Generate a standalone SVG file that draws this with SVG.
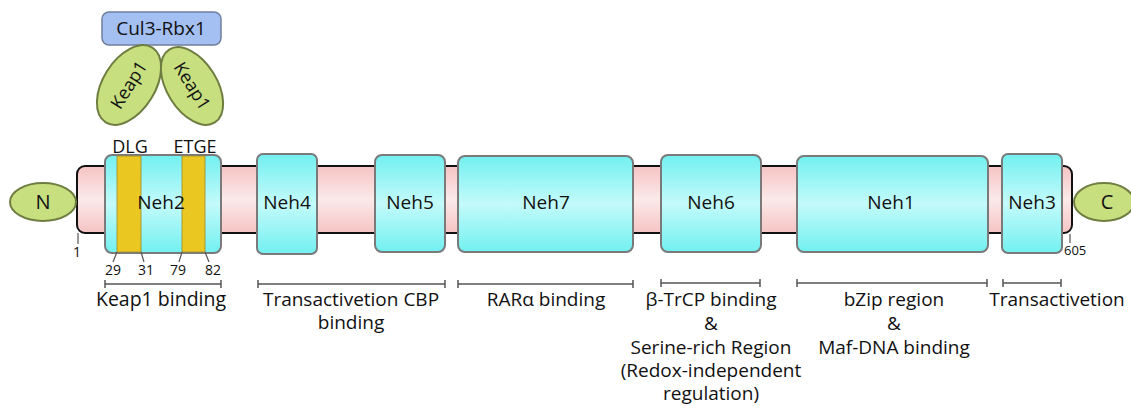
<svg xmlns="http://www.w3.org/2000/svg" width="1131" height="406" viewBox="0 0 1131 406">
<defs>
<linearGradient id="pink" x1="0" y1="0" x2="0" y2="1">
<stop offset="0" stop-color="#f6c3c3"/><stop offset="0.5" stop-color="#fbeaea"/><stop offset="1" stop-color="#f6c3c3"/>
</linearGradient>
<linearGradient id="cyan" x1="0" y1="0" x2="0" y2="1">
<stop offset="0" stop-color="#72f0f0"/><stop offset="0.5" stop-color="#c4fafa"/><stop offset="1" stop-color="#72f0f0"/>
</linearGradient>
</defs>
<style>
text{font-family:"Open Sans","Noto Sans","Liberation Sans",sans-serif;fill:#111}
.dom{fill:url(#cyan);stroke:#7a7a7a;stroke-width:2}
.lbl{font-size:19px;text-anchor:middle}
.neh{font-size:19px;text-anchor:middle}
.num{font-size:14px;text-anchor:middle}
.ell{fill:#c8df80;stroke:#6e7d40;stroke-width:2}
.stripe{fill:#eac821;stroke:#9c8a30;stroke-width:0.8}
.ln{stroke:#555;stroke-width:1.2;fill:none}
.br{stroke:#555;stroke-width:1.5;fill:none}
</style>
<g id="backbone"><rect x="77" y="166" width="995" height="67" rx="8" fill="url(#pink)" stroke="#111" stroke-width="2"/></g>
<g id="N"><ellipse class="ell" cx="43" cy="202" rx="33" ry="19"/><text class="neh" x="43" y="209" style="font-size:20px">N</text></g>
<g id="C"><ellipse class="ell" cx="1104" cy="202" rx="30" ry="19"/><text class="neh" x="1107" y="209" style="font-size:20px">C</text></g>
<g id="Neh2"><rect class="dom" x="105" y="155" width="116" height="98" rx="7"/>
<rect class="stripe" x="117" y="156" width="24" height="96"/><rect class="stripe" x="182" y="156" width="23" height="96"/>
<text class="neh" x="161" y="209">Neh2</text>
<text class="neh" x="130" y="153" style="font-size:18px">DLG</text><text class="neh" x="195" y="153" style="font-size:18px">ETGE</text></g>
<g id="Neh4"><rect class="dom" x="257" y="154" width="60" height="100" rx="6"/><text class="neh" x="287" y="209">Neh4</text></g>
<g id="Neh5"><rect class="dom" x="375" y="155" width="70" height="97" rx="7"/><text class="neh" x="410" y="209">Neh5</text></g>
<g id="Neh7"><rect class="dom" x="458" y="156" width="175" height="96" rx="7"/><text class="neh" x="546" y="209">Neh7</text></g>
<g id="Neh6"><rect class="dom" x="661" y="155" width="100" height="97" rx="7"/><text class="neh" x="711" y="209">Neh6</text></g>
<g id="Neh1"><rect class="dom" x="797" y="156" width="191" height="96" rx="7"/><text class="neh" x="891" y="209">Neh1</text></g>
<g id="Neh3"><rect class="dom" x="1002" y="154" width="60" height="99" rx="6"/><text class="neh" x="1032" y="209">Neh3</text></g>
<g id="Cul3-Rbx1"><rect x="102" y="12" width="119" height="33" rx="7" fill="#a4c0f2" stroke="#6f7f9f" stroke-width="1.5"/><text class="neh" x="161" y="35" style="font-size:19px">Cul3-Rbx1</text></g>
<g id="Keap1-left"><ellipse class="ell" cx="129" cy="85" rx="44" ry="26" transform="rotate(-58 129 85)"/><text class="neh" x="129" y="91" style="font-size:18px" transform="rotate(-58 129 85)">Keap1</text></g>
<g id="Keap1-right"><ellipse class="ell" cx="192" cy="86" rx="43" ry="25" transform="rotate(58 192 86)"/><text class="neh" x="192" y="92" style="font-size:18px" transform="rotate(58 192 86)">Keap1</text></g>
<g id="connectors">
<path class="ln" d="M78 233 L78 244 M117 252 L113 262 M141 252 L144 262 M182 252 L179 262 M205 252 L209 262 M1070 234 L1070 243"/>
<path class="br" d="M105 284 H221 M105 280 V288 M221 280 V288"/>
<path class="br" d="M258 284 H445 M258 280 V288 M445 280 V288"/>
<path class="br" d="M458 284 H633 M458 280 V288 M633 280 V288"/>
<path class="br" d="M661 283 H760 M661 279 V287 M760 279 V287"/>
<path class="br" d="M797 283 H987 M797 279 V287 M987 279 V287"/>
<path class="br" d="M1003 283 H1061 M1003 279 V287 M1061 279 V287"/>
</g>
<g id="numbers">
<text class="num" x="77" y="257">1</text>
<text class="num" x="113" y="275">29</text><text class="num" x="146" y="275">31</text><text class="num" x="178" y="275">79</text><text class="num" x="213" y="275">82</text>
<text class="num" x="1064" y="255" style="text-anchor:start;font-size:13px">605</text>
</g>
<g id="labels">
<text class="lbl" x="161" y="306" style="font-size:19.5px">Keap1 binding</text>
<text class="lbl" x="351" y="306"><tspan x="351">Transactivetion CBP</tspan><tspan x="351" dy="23">binding</tspan></text>
<text class="lbl" x="546" y="306">RARα binding</text>
<text class="lbl" x="711" y="306"><tspan x="711">β-TrCP binding</tspan><tspan x="711" dy="24">&amp;</tspan><tspan x="711" dy="24">Serine-rich Region</tspan><tspan x="711" dy="23">(Redox-independent</tspan><tspan x="711" dy="23">regulation)</tspan></text>
<text class="lbl" x="894" y="306"><tspan x="894">bZip region</tspan><tspan x="894" dy="24">&amp;</tspan><tspan x="894" dy="24">Maf-DNA binding</tspan></text>
<text class="lbl" x="1057" y="306">Transactivetion</text>
</g>
</svg>
